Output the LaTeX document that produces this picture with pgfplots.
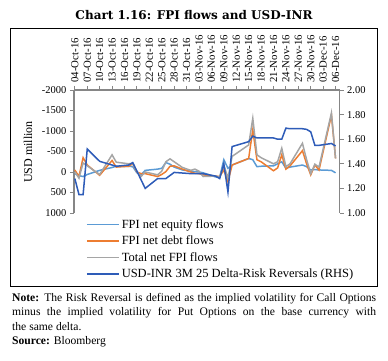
\documentclass[border=0pt]{standalone}
\usepackage{pgfplots}
\pgfplotsset{compat=1.18}
\usepackage{fontspec}
\setmainfont{Liberation Serif}
\newfontfamily\titlefont{DejaVu Serif}
\definecolor{eqc}{RGB}{91,155,213}
\definecolor{debtc}{RGB}{237,125,49}
\definecolor{totc}{RGB}{165,165,165}
\definecolor{rrc}{RGB}{46,92,184}
\definecolor{axc}{RGB}{134,134,134}

\pgfplotstableread{
day eq debt tot
0 40 -50 0
1 90 110 150
2 110 -350 -220
3 60 -170 -150
6 -40 80 60
9 -110 -280 -420
10 -140 -120 -240
13 -140 -140 -200
14 -130 -200 -210
15 20 0 -10
16 70 40 110
17 -40 40 0
20 -70 110 70
21 -90 60 -20
22 -230 -10 -250
23 -190 -140 -320
24 -120 -150 -250
26 -50 -70 -110
28 -20 0 -40
29 -10 30 -70
30 0 40 -20
31 20 70 110
34 120 100 100
35 130 110 120
36 -300 -50 -170
37 -90 240 150
38 -170 -170 -380
42 -330 -330 -660
43 -300 -1030 -1310
44 -130 -300 -420
45 -140 -250 -350
48 -150 -30 -200
49 -200 -100 -250
50 -250 -420 -580
51 -90 -70 -130
52 -120 -150 -200
55 -170 -520 -700
56 -130 -200 -300
57 -50 70 40
58 -60 -170 -190
59 -50 -50 -120
62 -40 -1390 -1440
63 20 -330 -330
}\flows

\pgfplotstableread{
day rr
0 1.28
1 1.15
2 1.15
3 1.52
6 1.42
9 1.39
10 1.38
13 1.39
14 1.41
17 1.20
20 1.28
22 1.28
24 1.33
28 1.32
31 1.32
34 1.30
35 1.28
36 1.40
37 1.17
38 1.54
42 1.58
43 1.625
44 1.61
45 1.61
48 1.61
49 1.60
50 1.60
51 1.69
52 1.685
55 1.685
56 1.68
57 1.66
58 1.55
59 1.55
62 1.565
63 1.545
}\rrdata

\begin{document}
\begin{tikzpicture}[x=1bp,y=1bp]
\useasboundingbox (0,0) rectangle (388,361);
\node[font=\titlefont\fontsize{12bp}{15bp}\selectfont\bfseries] at (194,346) {Chart 1.16: FPI flows and USD-INR};
\draw[line width=0.8bp] (10,75) rectangle (377,333);

\begin{axis}[
  at={(74bp,148bp)}, anchor=south west,
  width=265.7bp, height=123bp, scale only axis,
  xmin=-0.2, xmax=64, ymin=-2000, ymax=1000, y dir=reverse,
  axis x line*=top, axis y line*=left,
  axis line style={axc, line width=1.2bp, -},
  tick style={axc, line width=0.9bp},
  major tick length=4bp, tick align=outside,
  xtick={0,3,...,63},
  xticklabels={04-Oct-16,07-Oct-16,10-Oct-16,13-Oct-16,16-Oct-16,19-Oct-16,22-Oct-16,25-Oct-16,28-Oct-16,31-Oct-16,03-Nov-16,06-Nov-16,09-Nov-16,12-Nov-16,15-Nov-16,18-Nov-16,21-Nov-16,24-Nov-16,27-Nov-16,30-Nov-16,03-Dec-16,06-Dec-16},
  xticklabel style={rotate=90, anchor=west, font=\fontsize{10.8bp}{12bp}\selectfont},
  ytick={-2000,-1500,-1000,-500,0,500,1000},
  yticklabel style={font=\fontsize{10.5bp}{12bp}\selectfont},
  /pgf/number format/1000 sep={},
  /pgf/number format/assume math mode=true,
  clip=false,
]
\addplot[eqc, line width=1.5bp] table[x=day, y=eq] {\flows};
\addplot[debtc, line width=1.5bp] table[x=day, y=debt] {\flows};
\addplot[totc, line width=1.5bp] table[x=day, y=tot] {\flows};
\end{axis}

\begin{axis}[
  at={(74bp,148bp)}, anchor=south west,
  width=265.7bp, height=123bp, scale only axis,
  xmin=-0.2, xmax=64, ymin=1, ymax=2,
  axis x line=none, axis y line*=right,
  axis line style={axc, line width=1.2bp, -},
  tick style={axc, line width=0.9bp},
  major tick length=4bp, tick align=outside,
  ytick={1,1.2,1.4,1.6,1.8,2},
  yticklabel style={font=\fontsize{10.5bp}{12bp}\selectfont, /pgf/number format/.cd, fixed, fixed zerofill, precision=2},
  /pgf/number format/assume math mode=true,
  legend style={at={(0.045,-0.035)}, anchor=north west, draw=none, fill=none, inner sep=0pt, row sep=2.2bp, font=\fontsize{12.5bp}{14bp}\selectfont},
  legend cell align=left,
  legend image code/.code={\draw[#1, line width=1.6bp] (0bp,0bp) -- (32bp,0bp);},
]
\addlegendimage{eqc}
\addlegendentry{FPI net equity flows}
\addlegendimage{debtc}
\addlegendentry{FPI net debt flows}
\addlegendimage{totc}
\addlegendentry{Total net FPI flows}
\addplot[rrc, line width=1.5bp] table[x=day, y=rr] {\rrdata};
\addlegendentry{USD-INR 3M 25 Delta-Risk Reversals (RHS)}
\end{axis}

\node[rotate=90, font=\fontsize{12bp}{14bp}\selectfont] at (28,209) {USD million};

\node[anchor=north west, inner sep=0pt, text width=364bp, align=justify, font=\fontsize{11.6bp}{14.5bp}\selectfont] at (12,68) {\hyphenpenalty=10000 \textbf{Note:} The Risk Reversal is defined as the implied volatility for Call Options\linebreak minus the implied volatility for Put Options on the base currency with\linebreak the same delta.\\ \textbf{Source:} Bloomberg};
\end{tikzpicture}
\end{document}
